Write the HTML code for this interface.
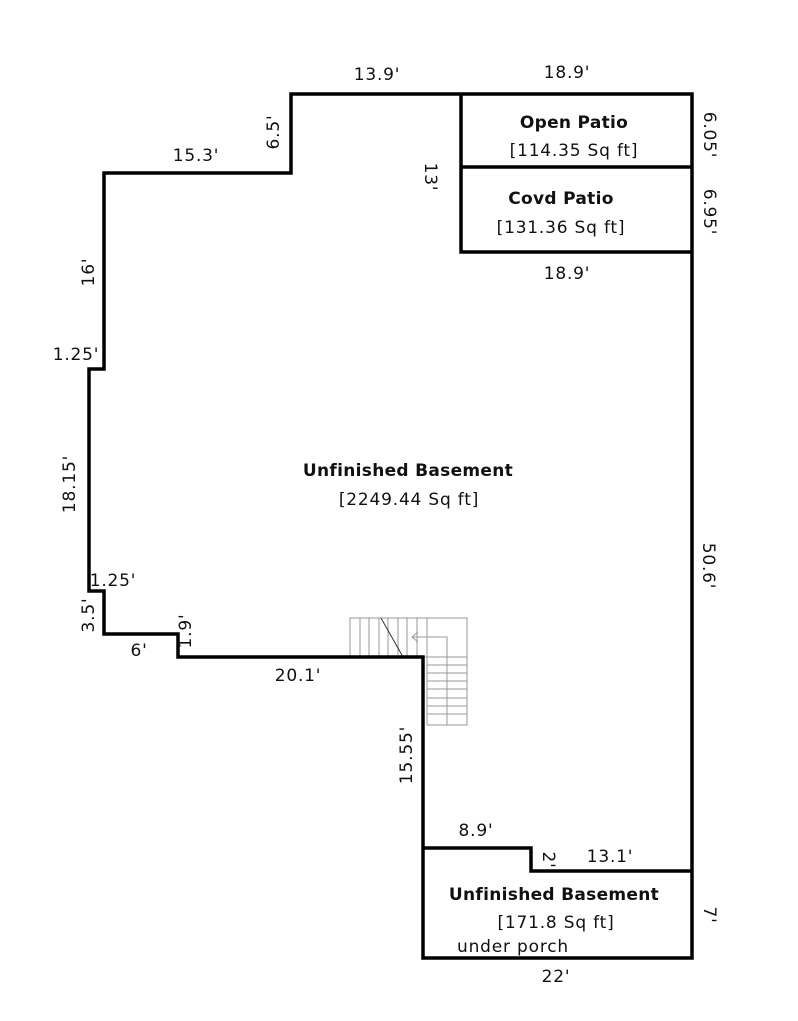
<!DOCTYPE html>
<html><head><style>
body{margin:0;background:#fff}
svg text{font-family:"DejaVu Sans","Liberation Sans",sans-serif;font-size:17px;letter-spacing:0.8px;fill:#111}
.b{font-weight:bold;letter-spacing:0.3px}
</style></head><body>
<svg width="798" height="1016" viewBox="0 0 798 1016">
<g fill="none" stroke="#999" stroke-width="1">
<rect x="350" y="618" width="117" height="39"/>
<path d="M360 618V657M369 618V657M379 618V657M388 618V657M398 618V657M407 618V657M417 618V657M427 618V725"/>
<path d="M427 657H467V725H427M427 665H467M427 673H467M427 681H467M427 689H467M427 698H467M427 706H467M427 714H467"/>
<path d="M447 725V637H412M418 632L412 637L418 642"/>
</g>
<path d="M381 618L403 657" stroke="#333" stroke-width="1"/>
<g fill="none" stroke="#000" stroke-width="3.5" stroke-linejoin="miter">
<path d="M291 94H692V958H423V657H178V634H104V591H89V369H104V173H291Z"/>
<path d="M461 94V252H692M461 167H692"/>
<path d="M423 848H531V871H692"/>
</g>
<g text-anchor="middle">
<text x="377" y="80">13.9'</text>
<text x="567" y="78">18.9'</text>
<text x="196" y="161">15.3'</text>
<text x="567" y="279">18.9'</text>
<text x="76" y="360">1.25'</text>
<text x="113" y="586">1.25'</text>
<text x="139" y="656">6'</text>
<text x="298" y="681">20.1'</text>
<text x="476" y="836">8.9'</text>
<text x="610" y="862">13.1'</text>
<text x="556" y="982">22'</text>
<text x="574" y="128" class="b">Open Patio</text>
<text x="574" y="156">[114.35 Sq ft]</text>
<text x="561" y="204" class="b">Covd Patio</text>
<text x="561" y="233">[131.36 Sq ft]</text>
<text x="408" y="476" class="b">Unfinished Basement</text>
<text x="409" y="505">[2249.44 Sq ft]</text>
<text x="554" y="900" class="b">Unfinished Basement</text>
<text x="556" y="928">[171.8 Sq ft]</text>
<text x="513" y="952">under porch</text>
<text transform="translate(279,132) rotate(-90)">6.5'</text>
<text transform="translate(425,177) rotate(90)">13'</text>
<text transform="translate(704,135) rotate(90)">6.05'</text>
<text transform="translate(704,212) rotate(90)">6.95'</text>
<text transform="translate(94,272) rotate(-90)">16'</text>
<text transform="translate(75,484) rotate(-90)">18.15'</text>
<text transform="translate(94,615) rotate(-90)">3.5'</text>
<text transform="translate(191,631) rotate(-90)">1.9'</text>
<text transform="translate(703,566) rotate(90)">50.6'</text>
<text transform="translate(412,755) rotate(-90)">15.55'</text>
<text transform="translate(543,860) rotate(90)">2'</text>
<text transform="translate(704,915) rotate(90)">7'</text>
</g>
</svg>
</body></html>
